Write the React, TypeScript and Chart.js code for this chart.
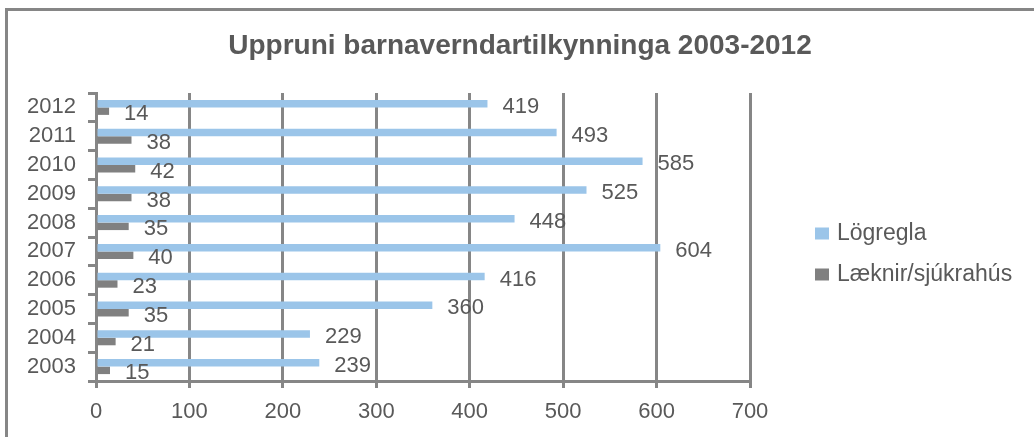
import React, { useEffect, useRef } from 'react';
import { Chart, registerables } from 'chart.js';

Chart.register(...registerables);

const years = ['2012', '2011', '2010', '2009', '2008', '2007', '2006', '2005', '2004', '2003'];
const logregla = [419, 493, 585, 525, 448, 604, 416, 360, 229, 239];
const laeknir = [14, 38, 42, 38, 35, 40, 23, 35, 21, 15];
const seriesNames = ['Lögregla', 'Læknir/sjúkrahús'];
const titleText = 'Uppruni barnaverndartilkynninga 2003-2012';
const xMin = 0;
const xMax = 700;
const xStep = 100;

const FONT = "'Liberation Sans', Arial, sans-serif";
const TEXT = '#595959';
const GRID = '#868686';
const BLUE = '#9BC5E9';
const DARK = '#808080';

const valueLabels = {
  id: 'valueLabels',
  afterDatasetsDraw(chart: any) {
    const ctx = chart.ctx;
    ctx.save();
    ctx.font = `22px ${FONT}`;
    ctx.fillStyle = TEXT;
    ctx.textAlign = 'left';
    ctx.textBaseline = 'middle';
    chart.data.datasets.forEach((ds: any, di: number) => {
      const meta = chart.getDatasetMeta(di);
      meta.data.forEach((bar: any, i: number) => {
        ctx.fillText(String(ds.data[i]), bar.x + 15, bar.y + 3);
      });
    });
    ctx.restore();
  },
};

const centeredTitle = {
  id: 'centeredTitle',
  afterDraw(chart: any) {
    const ctx = chart.ctx;
    ctx.save();
    ctx.font = `bold 28px ${FONT}`;
    ctx.fillStyle = TEXT;
    ctx.textAlign = 'center';
    ctx.textBaseline = 'middle';
    ctx.fillText(titleText, 520, 46);
    ctx.restore();
  },
};

const sideLegend = {
  id: 'sideLegend',
  afterDraw(chart: any) {
    const ctx = chart.ctx;
    const left = chart.chartArea.right + 65;
    const midY = (chart.chartArea.top + chart.chartArea.bottom) / 2;
    const rowGap = 41;
    const n = chart.data.datasets.length;
    ctx.save();
    ctx.font = `23px ${FONT}`;
    ctx.textAlign = 'left';
    ctx.textBaseline = 'middle';
    chart.data.datasets.forEach((ds: any, i: number) => {
      const cy = midY - ((n - 1) * rowGap) / 2 + i * rowGap + 17;
      ctx.fillStyle = ds.backgroundColor;
      ctx.fillRect(left, cy - 6, 14, 12);
      ctx.fillStyle = TEXT;
      ctx.fillText(ds.label, left + 22, cy);
    });
    ctx.restore();
  },
};

export default function App() {
  const ref = useRef<HTMLCanvasElement>(null);

  useEffect(() => {
    if (!ref.current) return;
    const chart = new Chart(ref.current, {
      type: 'bar',
      data: {
        labels: years,
        datasets: [
          { label: seriesNames[0], data: logregla, backgroundColor: BLUE, borderWidth: 0 },
          { label: seriesNames[1], data: laeknir, backgroundColor: DARK, borderWidth: 0 },
        ],
      },
      options: {
        indexAxis: 'y',
        responsive: false,
        animation: false,
        categoryPercentage: 0.52,
        barPercentage: 1,
        layout: { padding: { left: 0, top: 93, right: 284, bottom: 0 } },
        plugins: {
          legend: { display: false },
          tooltip: { enabled: false },
          title: { display: false },
        },
        scales: {
          x: {
            min: xMin,
            max: xMax,
            ticks: { stepSize: xStep, color: TEXT, font: { family: FONT, size: 22 }, padding: 11 },
            grid: { color: GRID, lineWidth: 3, tickLength: 7, drawTicks: true },
            border: { display: true, color: GRID, width: 3 },
            afterFit(s: any) {
              s.height = 56;
              s.paddingLeft = 0;
              s.paddingRight = 0;
            },
          },
          y: {
            ticks: { color: TEXT, font: { family: FONT, size: 22 }, padding: 12, autoSkip: false },
            grid: { color: GRID, lineWidth: 3, tickLength: 8, drawOnChartArea: false, drawTicks: true, offset: true },
            border: { display: true, color: GRID, width: 3 },
            afterFit(s: any) {
              s.width = 96;
              s.paddingTop = 0;
              s.paddingBottom = 0;
            },
          },
        },
      },
      plugins: [valueLabels, centeredTitle, sideLegend],
    });
    return () => chart.destroy();
  }, []);

  return (
    <div style={{ position: 'absolute', left: 0, top: 0, width: 1034, height: 437, overflow: 'hidden', background: '#fff' }}>
      <div
        style={{
          position: 'absolute',
          left: 5,
          top: 8,
          width: 1029,
          height: 429,
          boxSizing: 'border-box',
          borderTop: `3px solid ${GRID}`,
          borderLeft: `3px solid ${GRID}`,
        }}
      />
      <canvas ref={ref} width={1034} height={437} style={{ position: 'absolute', left: 0, top: 0 }} />
    </div>
  );
}
